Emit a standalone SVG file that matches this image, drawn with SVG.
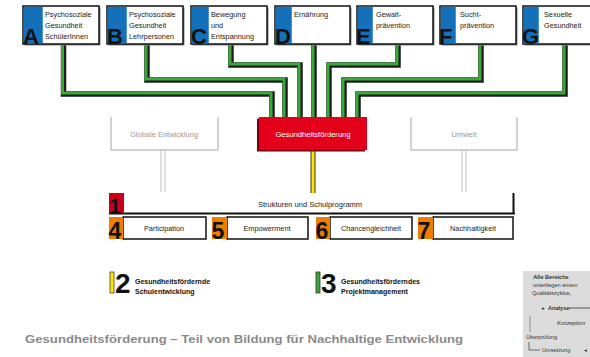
<svg xmlns="http://www.w3.org/2000/svg" width="590" height="357" viewBox="0 0 590 357">
<style>
text{font-family:"Liberation Sans","DejaVu Sans",sans-serif}
.box{fill:#fff;stroke:#111;stroke-width:1.5}
.sh{fill:#888}
.strip{fill:#1470b8}
.let{font-weight:bold;font-size:22px;fill:#111}
.bt{font-size:7.3px;fill:#222}
.gbox{fill:none;stroke:#c4c4c4;stroke-width:1.5}
.gt{font-size:7.5px;fill:#999;text-anchor:middle}
.gl{stroke:#c8c8c8;stroke-width:1.2;fill:none}
.cs{fill:none;stroke:#1e1e1e;stroke-width:5.5}
.cg{fill:none;stroke:#3aa83a;stroke-width:3}
.or{fill:#f07d00}
.num{font-weight:bold;font-size:23px;fill:#111}
.pt{font-size:7.3px;fill:#222;text-anchor:middle}
.lg{font-size:7px;font-weight:bold;fill:#111}
.it{font-size:5.6px;fill:#333}
</style>

<g id="connectors">
  <path class="cs" d="M63.5 45 V94 H272 V117"/>
  <path class="cs" d="M147 45 V80 H285 V117"/>
  <path class="cs" d="M231 45 V65 H300 V117"/>
  <path class="cs" d="M314 45 V117"/>
  <path class="cs" d="M398 45 V65 H329 V117"/>
  <path class="cs" d="M481 45 V80 H344 V117"/>
  <path class="cs" d="M565 45 V94 H358 V117"/>
  <path class="cg" d="M62.5 44 V93 H271 V117"/>
  <path class="cg" d="M146 44 V79 H284 V117"/>
  <path class="cg" d="M230 44 V64 H299 V117"/>
  <path class="cg" d="M313 44 V117"/>
  <path class="cg" d="M397 44 V64 H328 V117"/>
  <path class="cg" d="M480 44 V79 H343 V117"/>
  <path class="cg" d="M564 44 V93 H357 V117"/>
  <path d="M313 150 V193" stroke="#333" stroke-width="5" fill="none"/>
  <path d="M313 150 V193" stroke="#ffe800" stroke-width="3" fill="none"/>
  <path class="gl" d="M161 150 V192 M165 150 V192 M462 150 V192 M466 150 V192"/>
</g>

<g id="nodeA">
  <rect class="sh" x="24.5" y="7.5" width="76" height="38"/>
  <rect class="box" x="23" y="6" width="76" height="38"/>
  <rect class="strip" x="23.75" y="6.75" width="19" height="36.5"/>
  <text class="let" x="23" y="44">A</text>
  <text class="bt" x="45" y="17">Psychosoziale</text>
  <text class="bt" x="45" y="28">Gesundheit</text>
  <text class="bt" x="45" y="38.5">SchülerInnen</text>
</g>
<g id="nodeB">
  <rect class="sh" x="108.5" y="7.5" width="76" height="38"/>
  <rect class="box" x="107" y="6" width="76" height="38"/>
  <rect class="strip" x="107.75" y="6.75" width="19" height="36.5"/>
  <text class="let" x="107" y="44">B</text>
  <text class="bt" x="129" y="17">Psychosoziale</text>
  <text class="bt" x="129" y="28">Gesundheit</text>
  <text class="bt" x="129" y="38.5">Lehrpersonen</text>
</g>
<g id="nodeC">
  <rect class="sh" x="192.5" y="7.5" width="76" height="38"/>
  <rect class="box" x="191" y="6" width="76" height="38"/>
  <rect class="strip" x="191.75" y="6.75" width="17" height="36.5"/>
  <text class="let" x="191" y="44">C</text>
  <text class="bt" x="211" y="17">Bewegung</text>
  <text class="bt" x="211" y="28">und</text>
  <text class="bt" x="211" y="38.5">Entspannung</text>
</g>
<g id="nodeD">
  <rect class="sh" x="276.5" y="7.5" width="75" height="38"/>
  <rect class="box" x="275" y="6" width="75" height="38"/>
  <rect class="strip" x="275.75" y="6.75" width="16" height="36.5"/>
  <text class="let" x="275" y="44">D</text>
  <text class="bt" x="294" y="17">Ernährung</text>
</g>
<g id="nodeE">
  <rect class="sh" x="358.5" y="7.5" width="76" height="38"/>
  <rect class="box" x="357" y="6" width="76" height="38"/>
  <rect class="strip" x="357.75" y="6.75" width="15" height="36.5"/>
  <text class="let" x="356" y="44">E</text>
  <text class="bt" x="376" y="17">Gewalt-</text>
  <text class="bt" x="376" y="28">prävention</text>
</g>
<g id="nodeF">
  <rect class="sh" x="441.5" y="7.5" width="76" height="38"/>
  <rect class="box" x="440" y="6" width="76" height="38"/>
  <rect class="strip" x="440.75" y="6.75" width="15" height="36.5"/>
  <text class="let" x="439" y="44">F</text>
  <text class="bt" x="460" y="17">Sucht-</text>
  <text class="bt" x="460" y="28">prävention</text>
</g>
<g id="nodeG">
  <rect class="sh" x="524.5" y="7.5" width="76" height="38"/>
  <rect class="box" x="523" y="6" width="76" height="38"/>
  <rect class="strip" x="523.75" y="6.75" width="15" height="36.5"/>
  <text class="let" x="522" y="44">G</text>
  <text class="bt" x="544" y="17">Sexuelle</text>
  <text class="bt" x="544" y="28">Gesundheit</text>
</g>

<g id="globale">
  <path class="gbox" d="M111 117 V150 H218 V117"/>
  <text class="gt" x="164" y="136.5">Globale Entwicklung</text>
</g>
<g id="umwelt">
  <path class="gbox" d="M411 117 V150 H517 V117"/>
  <text class="gt" x="464" y="136.5">Umwelt</text>
</g>
<g id="gesundheitsfoerderung">
  <rect x="257" y="118.5" width="108" height="33" fill="#7a0010"/>
  <rect x="259" y="117" width="108" height="33" fill="#e2001a"/>
  <text x="313" y="136.5" font-size="7.6" fill="#fff" text-anchor="middle">Gesundheitsförderung</text>
</g>

<g id="struktur">
  <path d="M109 213.5 H515 M513.5 193 V213" stroke="#111" stroke-width="2" fill="none"/>
  <rect x="109" y="193" width="15" height="20" fill="#c8001a"/>
  <text x="109" y="213" font-size="21" font-weight="bold" fill="#111">1</text>
  <text x="310" y="206.5" font-size="7.5" fill="#222" text-anchor="middle">Strukturen und Schulprogramm</text>
</g>

<g id="p4">
  <rect x="123" y="217" width="83" height="22" class="box" stroke-width="1.2"/>
  <rect x="109" y="217" width="14" height="22" class="or"/>
  <text class="num" x="108.5" y="239">4</text>
  <text class="pt" x="164" y="231">Participation</text>
</g>
<g id="p5">
  <rect x="227" y="217" width="81" height="22" class="box" stroke-width="1.2"/>
  <rect x="212" y="217" width="15" height="22" class="or"/>
  <text class="num" x="211.5" y="239">5</text>
  <text class="pt" x="267" y="231">Empowerment</text>
</g>
<g id="p6">
  <rect x="330" y="217" width="82" height="22" class="box" stroke-width="1.2"/>
  <rect x="316" y="217" width="14" height="22" class="or"/>
  <text class="num" x="315.5" y="239">6</text>
  <text class="pt" x="371" y="231">Chancengleichheit</text>
</g>
<g id="p7">
  <rect x="433" y="217" width="80" height="22" class="box" stroke-width="1.2"/>
  <rect x="418" y="217" width="15" height="22" class="or"/>
  <text class="num" x="417.5" y="239">7</text>
  <text class="pt" x="473" y="231">Nachhaltigkeit</text>
</g>

<g id="legend2">
  <rect x="110" y="272" width="4" height="21" fill="#ffe800" stroke="#444" stroke-width="0.8"/>
  <text x="115" y="293" font-size="28" font-weight="bold" fill="#111">2</text>
  <text class="lg" x="135" y="283.5">Gesundheitsfördernde</text>
  <text class="lg" x="135" y="294">Schulentwicklung</text>
</g>
<g id="legend3">
  <rect x="316" y="272" width="4" height="21" fill="#3aa83a" stroke="#333" stroke-width="0.8"/>
  <text x="321" y="293" font-size="28" font-weight="bold" fill="#111">3</text>
  <text class="lg" x="341" y="283.5">Gesundheitsförderndes</text>
  <text class="lg" x="341" y="294">Projektmanagement</text>
</g>

<g id="inset">
  <rect x="523" y="271" width="67" height="86" fill="#dcdcdc"/>
  <text class="it" x="551" y="279" text-anchor="middle" font-weight="bold">Alle Bereiche</text>
  <text class="it" x="533" y="287">unterliegen einem</text>
  <text class="it" x="532" y="295">Qualitätszyklus,</text>
  <text class="it" x="542" y="310">▸</text>
  <text class="it" x="548" y="310" font-weight="bold">Analyse</text>
  <path d="M569 308 H590" stroke="#333" stroke-width="0.8"/>
  <path d="M530 316 V332" stroke="#999" stroke-width="1.2"/>
  <text class="it" x="557" y="325" font-style="italic" fill="#666">Konzeption</text>
  <text class="it" x="526" y="339">Überprüfung</text>
  <path d="M529 342 V350 H540" stroke="#333" stroke-width="0.7" fill="none"/>
  <text class="it" x="542" y="352" fill="#666">Umsetzung</text>
  <text class="it" x="584" y="352">◂</text>
</g>

<g id="title">
  <text x="25" y="343" font-size="11" font-weight="bold" fill="#8a8a8a" textLength="438" lengthAdjust="spacingAndGlyphs">Gesundheitsförderung – Teil von Bildung für Nachhaltige Entwicklung</text>
</g>
</svg>
